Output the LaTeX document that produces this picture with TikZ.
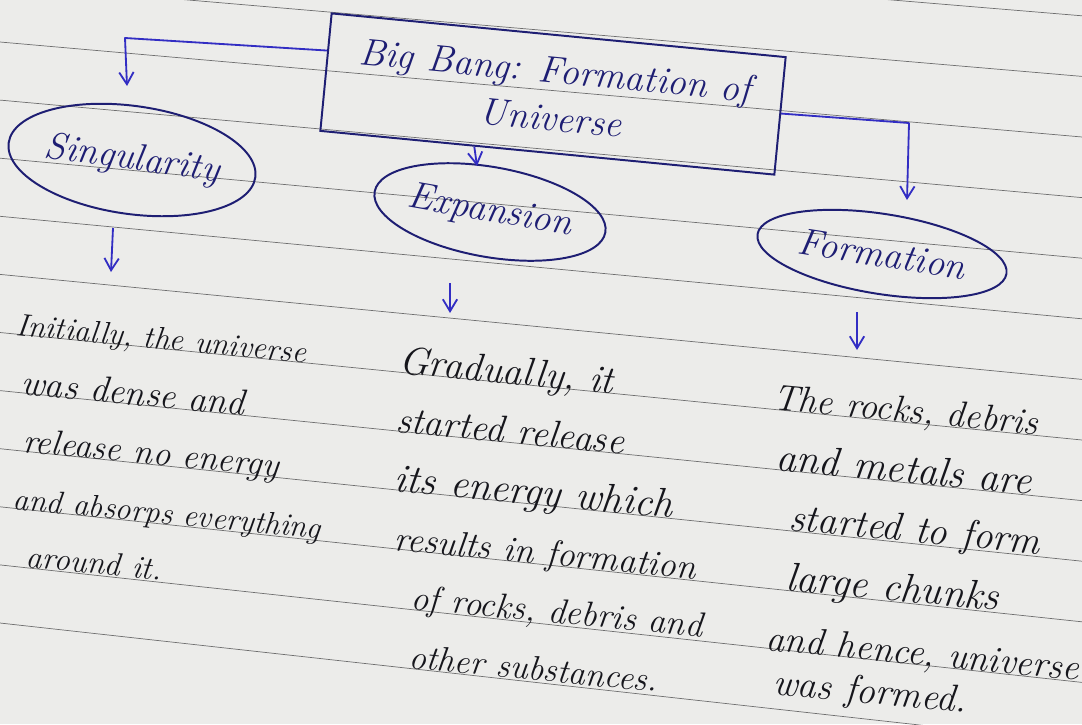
\documentclass[tikz,border=0pt]{standalone}
\usepackage{fontspec}
\usetikzlibrary{arrows.meta,shapes.geometric,calc}
\definecolor{paper}{RGB}{236,236,234}
\definecolor{ruling}{RGB}{110,110,110}
\definecolor{ink}{RGB}{30,30,115}
\definecolor{blueink}{RGB}{50,45,195}
\definecolor{pencil}{RGB}{22,22,28}
\begin{document}
\begin{tikzpicture}[x=0.025cm,y=-0.025cm,
  conn/.style={draw=blueink,line width=1.3pt,line join=round,-{Straight Barb[length=3mm,width=3.6mm]}},
  bubble/.style={draw=ink,line width=1.4pt,ellipse,inner sep=0pt,text=ink,
    font=\fontsize{27}{30}\selectfont\itshape},
  hand/.style={anchor=base west,rotate=-5.5,inner sep=0pt,text=pencil,
    font=\fontsize{#1}{#1}\selectfont\itshape},
  ruleline/.style={draw=ruling,line width=0.5pt}
]
\fill[paper] (0,0) rectangle (1082,724);
\useasboundingbox (0,0) rectangle (1082,724);
\begin{scope}
  \clip (0,0) rectangle (1082,724);
  \foreach \i in {-2,...,10} {
    \draw[ruleline] (0,{42+58.1*\i}) -- (1082,{42+58.1*\i+95+2.5*\i});
  }
\end{scope}

% title box
\node[draw=ink,line width=1.4pt,rotate=-5.5,minimum width=11.4cm,minimum height=2.95cm,
  align=center,inner sep=0pt,text=ink,font=\fontsize{27}{34}\selectfont\itshape]
  (title) at (553,94) {Big Bang: Formation of\\Universe};

% bubbles
\node[bubble,minimum width=5.75cm,minimum height=2.7cm,rotate=-8] (sing) at (132,160) {Singularity};
\node[bubble,minimum width=5.6cm,minimum height=2.25cm,rotate=-10] (exp) at (490,212) {Expansion};
\node[bubble,minimum width=6.3cm,minimum height=2.0cm,rotate=-9] (form) at (882,254) {Formation};

% connectors from the title
\coordinate (lc) at (125,38);
\coordinate (lt) at (127,86);
\draw[conn] ($(title.north west)!0.32!(title.south west)$) -- (lc) -- (lt);
\coordinate (rc) at (909,123);
\coordinate (rt) at (907,200);
\draw[conn] ($(title.north east)!0.48!(title.south east)$) -- (rc) -- (rt);
\coordinate (mt) at (477,166);
\draw[conn] ($(title.south west)!0.34!(title.south east)$) -- (mt);

% arrows below bubbles
\coordinate (s1) at (113,228); \coordinate (s2) at (111,272);
\draw[conn] (s1) -- (s2);
\coordinate (e1) at (450,283); \coordinate (e2) at (450,313);
\draw[conn] (e1) -- (e2);
\coordinate (f1) at (857,312); \coordinate (f2) at (857,350);
\draw[conn] (f1) -- (f2);

% left text
\node[hand=22.5] (l1) at (15,335) {Initially, the universe};
\node[hand=26] (l2) at (20,394) {was dense and};
\node[hand=25] (l3) at (22,452) {release no energy};
\node[hand=22.5] (l4) at (12,509) {and absorps everything};
\node[hand=23] (l5) at (25,567) {around it.};

% middle text
\node[hand=28] (m1) at (398,373) {Gradually, it};
\node[hand=27] (m2) at (395,432) {started release};
\node[hand=29] (m3) at (393,491) {its energy which};
\node[hand=25.5] (m4) at (393,550) {results in formation};
\node[hand=25] (m5) at (410,609) {of rocks, debris and};
\node[hand=24.5] (m6) at (408,668) {other substances.};

% right text
\node[hand=26] (r1) at (772,409) {The rocks, debris};
\node[hand=29] (r2) at (775,470) {and metals are};
\node[hand=28] (r3) at (788,530) {started to form};
\node[hand=29] (r4) at (785,590) {large chunks};
\node[hand=26.5] (r5) at (765,650) {and hence, universe};
\node[hand=27] (r6) at (772,694) {was formed.};
\end{tikzpicture}
\end{document}
